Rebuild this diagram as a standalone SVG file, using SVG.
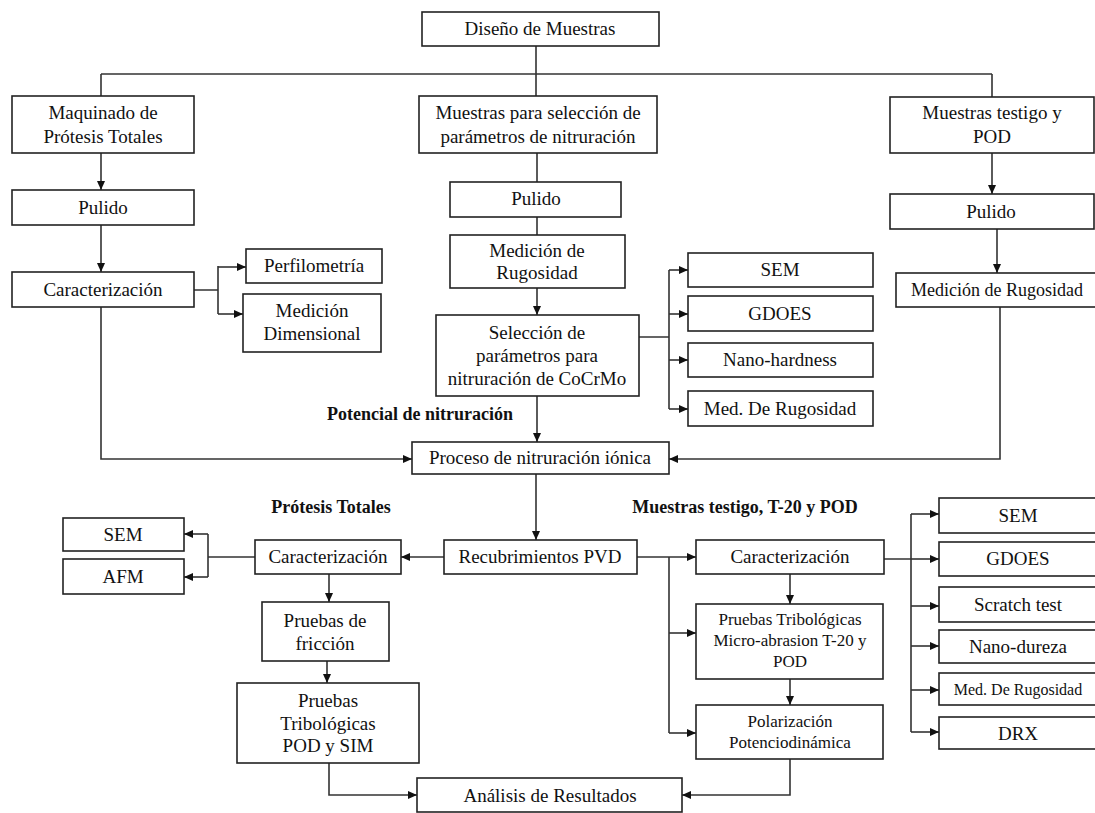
<svg xmlns="http://www.w3.org/2000/svg" width="1095" height="813" viewBox="0 0 1095 813">
<defs>
<marker id="ah" markerWidth="9" markerHeight="8" refX="9" refY="4" orient="auto" markerUnits="userSpaceOnUse">
<path d="M0,0 L9,4 L0,8 Z" fill="#111"/>
</marker>
<style>
.b{fill:#fff;stroke:#222;stroke-width:1.6}
.t{font-family:"Liberation Serif","Times New Roman",serif;font-size:19px;fill:#111;text-anchor:middle}
.s{font-size:17px}
.xs{font-size:16px}
.h{font-family:"Liberation Serif","Times New Roman",serif;font-size:18px;font-weight:bold;fill:#111;text-anchor:middle}
.c{fill:none;stroke:#333;stroke-width:1.6}
.a{marker-end:url(#ah)}
</style>
</defs>
<rect width="1095" height="813" fill="#fff"/>
<g id="connectors">
<path class="c" d="M536,46 V74 M101,74 H992 M101,74 V96 M536,74 V96 M992,74 V97"/>
<path class="c a" d="M101,153 V190"/>
<path class="c a" d="M101,225 V272"/>
<path class="c" d="M194,290 H218 M218,266 V314"/>
<path class="c a" d="M218,267 H246"/>
<path class="c a" d="M218,314 H243"/>
<path class="c a" d="M101,307 V459 H412"/>
<path class="c" d="M537,153 V182 M537,217 V235"/>
<path class="c a" d="M537,288 V315"/>
<path class="c a" d="M537,396 V442"/>
<path class="c" d="M639,337 H669 M669,270 V409"/>
<path class="c a" d="M669,270 H688"/>
<path class="c a" d="M669,314 H688"/>
<path class="c a" d="M669,360 H688"/>
<path class="c a" d="M669,409 H688"/>
<path class="c a" d="M992,153 V194"/>
<path class="c a" d="M997,229 V273"/>
<path class="c a" d="M1000,307 V459 H669"/>
<path class="c a" d="M536,474 V540"/>
<path class="c a" d="M444,557 H401"/>
<path class="c" d="M255,557 H208 M208,534 V577"/>
<path class="c a" d="M208,534 H184"/>
<path class="c a" d="M208,577 H184"/>
<path class="c a" d="M329,574 V602"/>
<path class="c a" d="M327,661 V683"/>
<path class="c a" d="M329,763 V795 H417"/>
<path class="c a" d="M637,557 H696"/>
<path class="c" d="M669,557 V733"/>
<path class="c a" d="M669,633 H696"/>
<path class="c a" d="M669,733 H696"/>
<path class="c a" d="M790,574 V604"/>
<path class="c a" d="M790,679 V705"/>
<path class="c a" d="M790,759 V795 H682"/>
<path class="c" d="M884,559 H911 M911,514 V732"/>
<path class="c a" d="M911,514 H939"/>
<path class="c a" d="M911,559 H939"/>
<path class="c a" d="M911,606 H939"/>
<path class="c a" d="M911,646 H939"/>
<path class="c a" d="M911,690 H939"/>
<path class="c a" d="M911,732 H939"/>
</g>
<g id="diseno"><rect class="b" x="422" y="12" width="237" height="34"/><text class="t" x="540" y="35">Diseño de Muestras</text></g>
<g id="maquinado"><rect class="b" x="12" y="96" width="182" height="57"/><text class="t" x="103" y="119">Maquinado de</text><text class="t" x="103" y="143">Prótesis Totales</text></g>
<g id="muestras-seleccion"><rect class="b" x="419" y="96" width="238" height="57"/><text class="t" x="538" y="119">Muestras para selección de</text><text class="t" x="538" y="143">parámetros de nitruración</text></g>
<g id="muestras-testigo"><rect class="b" x="890" y="97" width="204" height="56"/><text class="t" x="992" y="119">Muestras testigo y</text><text class="t" x="992" y="143">POD</text></g>
<g id="pulido-l"><rect class="b" x="12" y="190" width="182" height="35"/><text class="t" x="103" y="214">Pulido</text></g>
<g id="caract-l"><rect class="b" x="12" y="272" width="182" height="35"/><text class="t" x="103" y="296">Caracterización</text></g>
<g id="perfilometria"><rect class="b" x="246" y="249" width="136" height="34"/><text class="t" x="314" y="272">Perfilometría</text></g>
<g id="medicion-dim"><rect class="b" x="243" y="294" width="138" height="58"/><text class="t" x="312" y="317">Medición</text><text class="t" x="312" y="340">Dimensional</text></g>
<g id="pulido-m"><rect class="b" x="450" y="182" width="171" height="35"/><text class="t" x="536" y="205">Pulido</text></g>
<g id="medicion-rug-m"><rect class="b" x="450" y="235" width="175" height="53"/><text class="t" x="537" y="257">Medición de</text><text class="t" x="537" y="279">Rugosidad</text></g>
<g id="seleccion"><rect class="b" x="436" y="315" width="203" height="81"/><text class="t" x="537" y="339">Selección de</text><text class="t" x="537" y="362">parámetros para</text><text class="t" x="537" y="385">nitruración de CoCrMo</text></g>
<g id="sem-m"><rect class="b" x="688" y="253" width="185" height="34"/><text class="t" x="780" y="276">SEM</text></g>
<g id="gdoes-m"><rect class="b" x="688" y="296" width="185" height="35"/><text class="t" x="780" y="320">GDOES</text></g>
<g id="nano-m"><rect class="b" x="688" y="343" width="185" height="34"/><text class="t" x="780" y="366">Nano-hardness</text></g>
<g id="medrug-m"><rect class="b" x="688" y="391" width="185" height="35"/><text class="t" x="780" y="415">Med. De Rugosidad</text></g>
<g id="pulido-r"><rect class="b" x="890" y="194" width="204" height="35"/><text class="t" x="991" y="218">Pulido</text></g>
<g id="medrug-r"><rect class="b" x="896" y="273" width="200" height="34"/><text class="t" x="997" y="296" style="font-size:18px">Medición de Rugosidad</text></g>
<text class="h" x="420" y="420">Potencial de nitruración</text>
<g id="proceso"><rect class="b" x="412" y="442" width="257" height="32"/><text class="t" x="540" y="464">Proceso de nitruración iónica</text></g>
<text class="h" x="331" y="513">Prótesis Totales</text>
<text class="h" x="745" y="513">Muestras testigo, T-20 y POD</text>
<g id="recubrimientos"><rect class="b" x="444" y="540" width="193" height="34"/><text class="t" x="540" y="563">Recubrimientos PVD</text></g>
<g id="caract-pt"><rect class="b" x="255" y="540" width="146" height="34"/><text class="t" x="328" y="563">Caracterización</text></g>
<g id="sem-pt"><rect class="b" x="63" y="518" width="121" height="33"/><text class="t" x="123" y="541">SEM</text></g>
<g id="afm"><rect class="b" x="63" y="559" width="121" height="35"/><text class="t" x="123" y="583">AFM</text></g>
<g id="friccion"><rect class="b" x="262" y="602" width="127" height="59"/><text class="t" x="325" y="627">Pruebas de</text><text class="t" x="325" y="650">fricción</text></g>
<g id="trib-pt"><rect class="b" x="237" y="683" width="182" height="80"/><text class="t" x="328" y="707">Pruebas</text><text class="t" x="328" y="730">Tribológicas</text><text class="t" x="328" y="752">POD y SIM</text></g>
<g id="analisis"><rect class="b" x="417" y="778" width="265" height="34"/><text class="t" x="550" y="802">Análisis de Resultados</text></g>
<g id="caract-r"><rect class="b" x="696" y="540" width="188" height="34"/><text class="t" x="790" y="563">Caracterización</text></g>
<g id="trib-r"><rect class="b" x="696" y="604" width="187" height="75"/><text class="t s" x="790" y="625">Pruebas Tribológicas</text><text class="t s" x="790" y="646">Micro-abrasion T-20 y</text><text class="t s" x="790" y="667">POD</text></g>
<g id="polarizacion"><rect class="b" x="696" y="705" width="187" height="54"/><text class="t s" x="790" y="727">Polarización</text><text class="t s" x="790" y="748">Potenciodinámica</text></g>
<g id="sem-r"><rect class="b" x="939" y="498" width="158" height="35"/><text class="t" x="1018" y="522">SEM</text></g>
<g id="gdoes-r"><rect class="b" x="939" y="542" width="158" height="34"/><text class="t" x="1018" y="565">GDOES</text></g>
<g id="scratch"><rect class="b" x="939" y="587" width="158" height="35"/><text class="t" x="1018" y="611">Scratch test</text></g>
<g id="nano-r"><rect class="b" x="939" y="630" width="158" height="33"/><text class="t" x="1018" y="653">Nano-dureza</text></g>
<g id="medrug-r2"><rect class="b" x="939" y="673" width="158" height="32"/><text class="t xs" x="1018" y="695">Med. De Rugosidad</text></g>
<g id="drx"><rect class="b" x="939" y="717" width="158" height="32"/><text class="t" x="1018" y="740">DRX</text></g>
</svg>
